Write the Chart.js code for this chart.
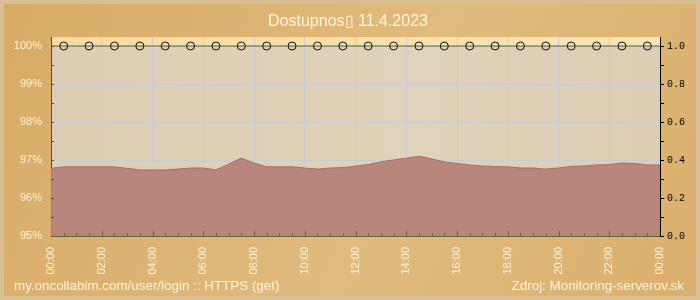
<!DOCTYPE html>
<html>
<head>
<meta charset="utf-8">
<script src="https://cdn.jsdelivr.net/npm/chart.js@4"></script>
<style>
  body { margin: 0; background: #dcaf6b; }
  #wrap { width: 700px; height: 300px; }
</style>
</head>
<body>
<div id="wrap"><canvas id="chart" width="700" height="300"></canvas></div>
<script>
const times = [
    '00:00', '00:30', '01:00', '01:30', '02:00', '02:30', '03:00', '03:30',
    '04:00', '04:30', '05:00', '05:30', '06:00', '06:30', '07:00', '07:30',
    '08:00', '08:30', '09:00', '09:30', '10:00', '10:30', '11:00', '11:30',
    '12:00', '12:30', '13:00', '13:30', '14:00', '14:30', '15:00', '15:30',
    '16:00', '16:30', '17:00', '17:30', '18:00', '18:30', '19:00', '19:30',
    '20:00', '20:30', '21:00', '21:30', '22:00', '22:30', '23:00', '23:30',
    '00:00'
];
// dostupnost v %
const availability = [
    96.78, 96.82, 96.82, 96.82, 96.82, 96.82, 96.78, 96.74,
    96.74, 96.74, 96.76, 96.79, 96.79, 96.74, 96.89, 97.05,
    96.92, 96.82, 96.82, 96.82, 96.79, 96.76, 96.79, 96.80,
    96.84, 96.88, 96.95, 97.00, 97.05, 97.10, 97.03, 96.95,
    96.91, 96.87, 96.84, 96.83, 96.82, 96.79, 96.79, 96.76,
    96.79, 96.83, 96.84, 96.87, 96.88, 96.92, 96.91, 96.87,
    96.87
];
// stav (0/1) - prava os
const status = [
    1, 1, 1, 1, 1, 1, 1, 1, 1, 1, 1, 1, 1, 1, 1, 1,
    1, 1, 1, 1, 1, 1, 1, 1, 1, 1, 1, 1, 1, 1, 1, 1,
    1, 1, 1, 1, 1, 1, 1, 1, 1, 1, 1, 1, 1, 1, 1, 1,
    1
];
const leftTicks = [95, 96, 97, 98, 99, 100];
const title = 'Dostupnos\u25AF 11.4.2023';
const footLeft = 'my.oncollabim.com/user/login :: HTTPS (get)';
const footRight = 'Zdroj: Monitoring-serverov.sk';

const cream = '#fff3dc';
const gridColor = '#c8ccd6';

const bgPlugin = {
    id: 'bg',
    beforeDraw(chart) {
        const ctx = chart.ctx;
        const a = chart.chartArea;
        ctx.save();
        // pozadie
        const g = ctx.createLinearGradient(0, 0, 700, 300);
        g.addColorStop(0, '#d9aa65');
        g.addColorStop(0.55, '#e0bb7e');
        g.addColorStop(1, '#dbaf6c');
        ctx.fillStyle = g;
        ctx.fillRect(0, 0, 700, 300);
        ctx.strokeStyle = '#d9bd93';
        ctx.lineWidth = 4;
        ctx.strokeRect(2, 2, 696, 296);
        // plocha grafu
        const y100 = chart.scales.y.getPixelForValue(100);
        const gt = ctx.createLinearGradient(a.left, 0, a.right, 0);
        gt.addColorStop(0, '#fcd9a0');
        gt.addColorStop(1, '#fee3b3');
        ctx.fillStyle = gt;
        ctx.fillRect(a.left, a.top, a.right - a.left, y100 - a.top);
        const gb = ctx.createLinearGradient(a.left, 0, a.right, 0);
        gb.addColorStop(0, '#dccdb3');
        gb.addColorStop(0.6, '#e0d3bb');
        gb.addColorStop(1, '#dccdb4');
        ctx.fillStyle = gb;
        ctx.fillRect(a.left, y100, a.right - a.left, a.bottom - y100);
        ctx.restore();
    },
    afterDatasetsDraw(chart) {
        const ctx = chart.ctx;
        const a = chart.chartArea;
        const x = chart.scales.x;
        const y = chart.scales.y;
        ctx.save();
        // male ciarky dovnutra
        ctx.lineWidth = 1;
        ctx.strokeStyle = '#6b4a1a';
        for (let v = 95.5; v < 100.01; v += 0.5) {
            const py = Math.round(y.getPixelForValue(v)) + 0.5;
            ctx.beginPath();
            ctx.moveTo(a.left, py);
            ctx.lineTo(a.left + 3, py);
            ctx.stroke();
        }
        ctx.strokeStyle = '#5e6a36';
        for (let i = 1; i < times.length - 1; i++) {
            const px = Math.round(x.getPixelForValue(i)) + 0.5;
            const len = i % 4 === 0 ? 5 : 3;
            ctx.beginPath();
            ctx.moveTo(px, a.bottom);
            ctx.lineTo(px, a.bottom - len);
            ctx.stroke();
        }
        ctx.restore();
    },
    afterDraw(chart) {
        const ctx = chart.ctx;
        ctx.save();
        ctx.fillStyle = cream;
        ctx.font = '16px "Liberation Sans", Arial, sans-serif';
        ctx.textAlign = 'center';
        ctx.textBaseline = 'alphabetic';
        ctx.fillText(title, 348, 26);
        ctx.font = '13.4px "Liberation Sans", Arial, sans-serif';
        ctx.textAlign = 'left';
        ctx.fillText(footLeft, 14, 290);
        ctx.textAlign = 'right';
        ctx.fillText(footRight, 684, 290);
        ctx.restore();
    }
};

const config = {
    type: 'line',
    data: {
        labels: times,
        datasets: [{
            label: 'stav',
            data: status,
            yAxisID: 'y1',
            borderColor: '#55692a',
            borderWidth: 1,
            pointRadius: ctx => (ctx.dataIndex % 2 === 1 ? 4 : 0),
            pointBorderColor: '#111',
            pointBorderWidth: 1,
            pointBackgroundColor: 'rgba(0,0,0,0)',
            fill: false,
            order: 0
        }, {
            label: 'dostupnost',
            data: availability,
            yAxisID: 'y',
            borderColor: '#ad6b62',
            borderWidth: 1,
            backgroundColor: 'rgba(182,128,118,0.93)',
            pointRadius: 0,
            tension: 0,
            fill: 'start',
            order: 1
        }]
    },
    options: {
        responsive: false,
        animation: false,
        layout: { padding: { top: 37, left: 0, right: 0, bottom: 0 } },
        plugins: {
            legend: { display: false },
            tooltip: { enabled: false }
        },
        scales: {
            x: {
                offset: false,
                afterFit(s) { s.height = 64; },
                grid: {
                    color: ctx => (ctx.index % 4 === 0 ? gridColor : 'rgba(0,0,0,0)'),
                    drawTicks: false
                },
                border: { color: '#5e6a36', width: 1 },
                ticks: {
                    autoSkip: false,
                    minRotation: 90,
                    maxRotation: 90,
                    padding: 11,
                    color: cream,
                    font: { family: '"Liberation Sans", Arial, sans-serif', size: 11 },
                    callback: function (value, index) {
                        return index % 4 === 0 ? this.getLabelForValue(value) : '';
                    }
                }
            },
            y: {
                position: 'left',
                min: 95,
                max: 100.237,
                afterFit(s) { s.width = 51; },
                afterBuildTicks(s) { s.ticks = leftTicks.map(v => ({ value: v })); },
                grid: { color: gridColor, drawTicks: false },
                border: { color: '#6b4a1a', width: 1 },
                ticks: {
                    padding: 9,
                    color: cream,
                    font: { family: '"Liberation Sans", Arial, sans-serif', size: 11 },
                    callback: v => v + '%'
                }
            },
            y1: {
                position: 'right',
                min: 0,
                max: 1.0474,
                afterFit(s) { s.width = 40; },
                grid: { drawOnChartArea: false, tickLength: 4, tickColor: '#000' },
                border: { color: '#000', width: 1 },
                ticks: {
                    stepSize: 0.1,
                    includeBounds: false,
                    autoSkip: false,
                    padding: 3,
                    color: '#000',
                    font: { family: '"Liberation Mono", monospace', size: 10 },
                    callback: v => (Math.round(v * 10) % 2 === 0 ? v.toFixed(1) : '')
                }
            }
        }
    },
    plugins: [bgPlugin]
};

const chart = new Chart(document.getElementById('chart'), config);
</script>
</body>
</html>
